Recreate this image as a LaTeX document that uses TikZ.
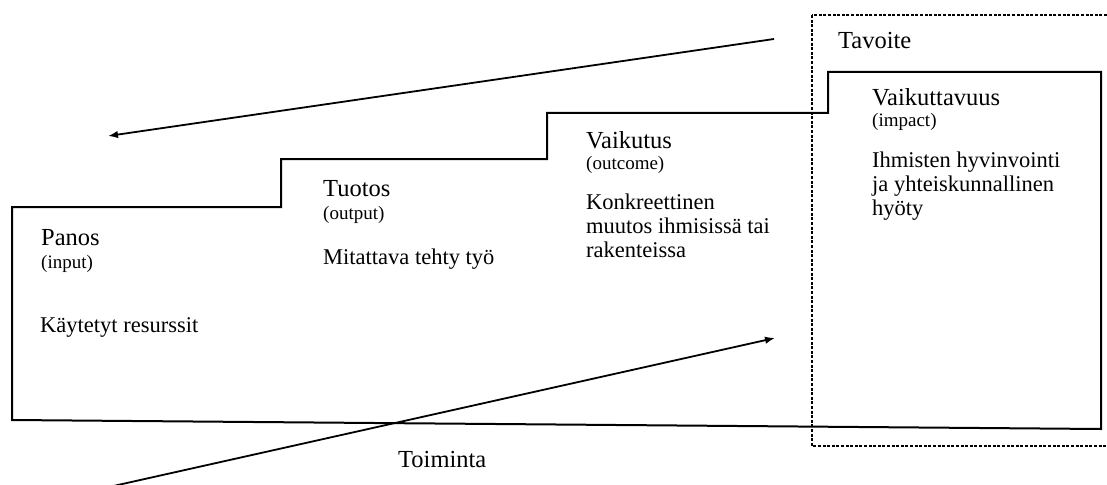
\documentclass[tikz,border=0pt]{standalone}
\usepackage{fontspec}
\setmainfont{Liberation Serif}
\usetikzlibrary{arrows.meta}

\begin{document}
\begin{tikzpicture}[x=1pt,y=-1pt,
  outline/.style={line width=2pt, line join=miter, line cap=rect},
  goal/.style={line width=1.5pt, dash pattern=on 3pt off 1.6pt},
  flow/.style={line width=1.8pt, -{Latex[length=10pt,width=7.5pt]}},
  head/.style={anchor=base west, inner sep=0pt, font=\fontsize{24.5}{28}\selectfont},
  sub/.style={anchor=base west, inner sep=0pt, font=\fontsize{19}{22}\selectfont},
  body/.style={anchor=base west, inner sep=0pt, align=left, font=\fontsize{22.5}{24}\selectfont},
]
\useasboundingbox (0,0) rectangle (1107,484);
\clip (0,0) rectangle (1107,484);

% staircase outline of the activity chain
\coordinate (s0) at (12,420);
\coordinate (s1) at (12,207);
\coordinate (s2) at (281,207);
\coordinate (s3) at (281,159);
\coordinate (s4) at (547,159);
\coordinate (s5) at (547,113);
\coordinate (s6) at (828,113);
\coordinate (s7) at (828,72);
\coordinate (s8) at (1101,72);
\coordinate (s9) at (1101,429);
\draw[outline] (s0) -- (s1) -- (s2) -- (s3) -- (s4) -- (s5) -- (s6) -- (s7) -- (s8) -- (s9) -- cycle;

% dashed goal frame
\coordinate (g0) at (812,15);
\coordinate (g1) at (1115,446);
\draw[goal] (g0) rectangle (g1);

% feedback and progress arrows
\coordinate (fbstart) at (774,39);
\coordinate (fbend) at (108,136);
\draw[flow] (fbstart) -- (fbend);
\coordinate (prstart) at (100,489);
\coordinate (prend) at (775,338);
\draw[flow] (prstart) -- (prend);

% stage labels (multi-line texts are anchored at their last baseline)
\node[head] (panos) at (41,245) {Panos};
\node[sub] (panossub) at (41,268) {(input)};
\node[body] (panostxt) at (40,332) {Käytetyt resurssit};

\node[head] (tuotos) at (323,196) {Tuotos};
\node[sub] (tuotossub) at (323,219) {(output)};
\node[body] (tuotostxt) at (323,264) {Mitattava tehty työ};

\node[head] (vaik) at (586,148) {Vaikutus};
\node[sub] (vaiksub) at (586,169) {(outcome)};
\node[body] (vaiktxt) at (586,257) {Konkreettinen\\muutos ihmisissä tai\\rakenteissa};

\node[head] (tavoite) at (838,49) {Tavoite};
\node[head] (vv) at (872,106) {Vaikuttavuus};
\node[sub] (vvsub) at (872,126) {(impact)};
\node[body] (vvtxt) at (872,215) {Ihmisten hyvinvointi\\ja yhteiskunnallinen\\hyöty};

\node[head] (toiminta) at (398,467) {Toiminta};
\end{tikzpicture}
\end{document}
